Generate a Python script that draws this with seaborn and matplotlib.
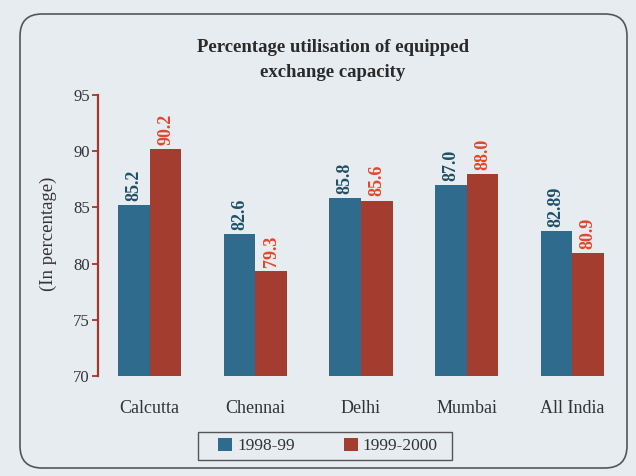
import matplotlib
matplotlib.use("Agg")
import matplotlib.pyplot as plt
import seaborn as sns
import pandas as pd
from matplotlib.patches import FancyBboxPatch, Rectangle
from matplotlib.font_manager import FontProperties

cities = ["Calcutta", "Chennai", "Delhi", "Mumbai", "All India"]
series_names = ["1998-99", "1999-2000"]
vals_1998_99 = [85.2, 82.6, 85.8, 87.0, 82.89]
vals_1999_2000 = [90.2, 79.3, 85.6, 88.0, 80.9]
y_ticks = [70, 75, 80, 85, 90, 95]
title = "Percentage utilisation of equipped\nexchange capacity"
y_label = "(In percentage)"

df = pd.DataFrame({
    "city": cities * 2,
    "period": [series_names[0]] * len(cities) + [series_names[1]] * len(cities),
    "value": vals_1998_99 + vals_1999_2000,
})

bar_colors = ["#2e6b8c", "#a23d2f"]
text_colors = ["#1f5068", "#e3472b"]
spine_red = "#a8352c"
bg = "#e7ecf1"

sns.set_theme(style="white")
plt.rcParams["font.family"] = ["Liberation Serif", "DejaVu Serif"]

fig = plt.figure(figsize=(6.36, 4.76), dpi=100, facecolor=bg)
W, H = 636, 476
ax = fig.add_axes([98 / W, 1 - 376 / H, 527 / W, 281 / H])
ax.set_facecolor("none")

sns.barplot(data=df, x="city", y="value", hue="period", palette=bar_colors,
            width=0.6, gap=0, saturation=1, ax=ax, legend=True,
            edgecolor="none", linewidth=0)

ax.set_ylim(70, 95)
ax.set_xlim(-0.49, 4.5)
ax.set_yticks(y_ticks)
ax.set_xlabel("")
ax.set_ylabel("")

for c, col, vals in zip(ax.containers, text_colors, [vals_1998_99, vals_1999_2000]):
    ax.bar_label(c, labels=[str(v) for v in vals], rotation=90, padding=3,
                 color=col, fontsize=13, fontweight="bold")

for s in ["top", "right", "bottom"]:
    ax.spines[s].set_visible(False)
ax.spines["left"].set_color(spine_red)
ax.spines["left"].set_linewidth(1.6)
ax.tick_params(axis="y", left=True, length=4, width=1.3, color=spine_red,
               labelsize=12, labelcolor="#333333", pad=2)
ax.tick_params(axis="x", length=0, labelsize=13, labelcolor="#333333", pad=17)

# legend
leg = ax.get_legend()
handles = leg.legend_handles
leg.remove()
fig.legend(handles, series_names, loc="center", bbox_to_anchor=(328 / W, 1 - 446 / H),
           ncol=2, frameon=False, prop=FontProperties(family="Liberation Serif", size=12.5),
           handlelength=0.8, handleheight=0.8,
           handletextpad=0.3, columnspacing=2.8, labelcolor="#333333")
fig.patches.append(Rectangle((198 / W, 1 - 460 / H), (452 - 198) / W, 28 / H,
                             transform=fig.transFigure, fill=False,
                             edgecolor="#555555", linewidth=1.0))

# title and y label
fig.text(333 / W, 1 - 60 / H, title, ha="center", va="center", fontsize=13.5,
         fontweight="bold", color="#2a2a2a", linespacing=1.55)
fig.text(48 / W, 1 - 234 / H, y_label, ha="center", va="center", rotation=90,
         fontsize=13.5, color="#333333")

# rounded outer border
fig.patches.append(FancyBboxPatch((0.20, 0.08), 6.07, 4.54,
                                  boxstyle="round,pad=0,rounding_size=0.22",
                                  transform=fig.dpi_scale_trans, fill=False,
                                  edgecolor="#555555", linewidth=1.2))

fig.savefig("out.png", dpi=100, facecolor=bg)
